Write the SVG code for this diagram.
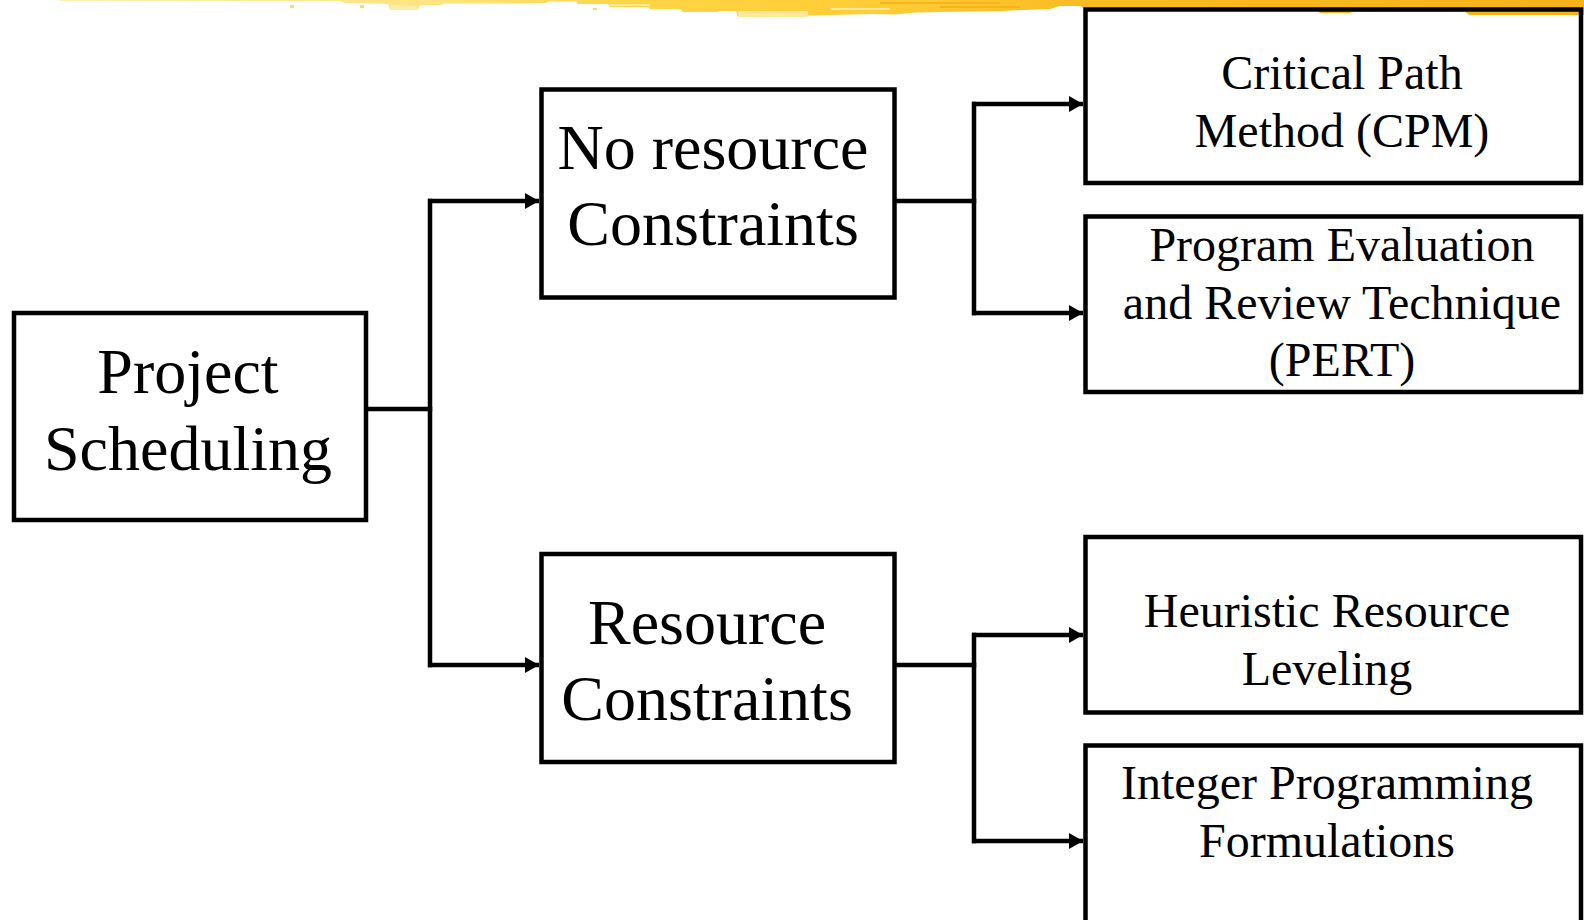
<svg xmlns="http://www.w3.org/2000/svg" width="1584" height="920" viewBox="0 0 1584 920">
  <defs>
    <linearGradient id="brush" gradientUnits="userSpaceOnUse" x1="0" y1="0" x2="1584" y2="0">
      <stop offset="0" stop-color="#FFF1BC"/>
      <stop offset="0.28" stop-color="#FFE47E"/>
      <stop offset="0.4" stop-color="#FFD544"/>
      <stop offset="0.56" stop-color="#FFCC36"/>
      <stop offset="0.68" stop-color="#F8BC22"/>
      <stop offset="1" stop-color="#F5B21A"/>
    </linearGradient>
    <marker id="arrow" viewBox="0 0 14 16" refX="14" refY="8" markerWidth="14" markerHeight="16" markerUnits="userSpaceOnUse" orient="auto">
      <path d="M0,0 L14,8 L0,16 Z" fill="#000"/>
    </marker>
    <style>
      .box { fill: none; stroke: #000; stroke-width: 4.5; }
      .big { font-family: "Liberation Serif", "Times New Roman", serif; font-size: 64px; fill: #000; text-anchor: middle; }
      .small { font-family: "Liberation Serif", "Times New Roman", serif; font-size: 48px; fill: #000; text-anchor: middle; }
      .line { fill: none; stroke: #000; stroke-width: 4.5; stroke-linecap: square; }
      .arrow { fill: none; stroke: #000; stroke-width: 4.5; marker-end: url(#arrow); }
    </style>
  </defs>

  <rect width="1584" height="920" fill="#fff"/>

  <!-- dry-brush band along the top edge -->
  <g id="brush-band">
    <path fill="url(#brush)" d="M60 0 L1584 0 L1584 15 L1470 15 L1465 12 L1352 12 L1350 13 L1320 13 L1318 11 L1085 9 L1080 6 L1060 6 L1050 9 L1000 11 L915 12.5 L895 14.5 L873 14 L808 15.5 L805 17 L738 17 L736 11 L720 11 L718 12 L683 12 L681 9 L650 9 L648 7 L610 7 L608 4 L578 4 L576 1.5 L548 1.5 L546 3 L510 3.5 L445 3.5 L440 5 L420 5 L418 10 L390 10 L388 4 L345 3 L340 1 L60 1 Z"/>
    <!-- lighter dry streaks -->
    <g fill="#FFEDA8" opacity="0.85">
      <rect x="738" y="11" width="70" height="6"/>
      <rect x="610" y="4" width="40" height="2"/>
      <rect x="830" y="8" width="60" height="2"/>
      <rect x="390" y="5" width="28" height="5"/>
    </g>
    <g fill="#F3AE18" opacity="0.7">
      <rect x="880" y="2" width="120" height="2"/>
      <rect x="940" y="6" width="80" height="2"/>
    </g>
    <g fill="#FCDB6A">
      <rect x="290" y="5" width="4" height="3"/>
      <rect x="360" y="5" width="4" height="3"/>
      <rect x="593" y="8" width="4" height="2"/>
    </g>
  </g>

  <!-- connectors -->
  <g id="connectors">
    <path class="line" d="M367 409 H430"/>
    <path class="line" d="M430 201 V665"/>
    <path class="arrow" d="M428 201 H539"/>
    <path class="arrow" d="M428 665 H539"/>

    <path class="line" d="M896 201 H974"/>
    <path class="line" d="M974 104 V313"/>
    <path class="arrow" d="M972 104 H1083"/>
    <path class="arrow" d="M972 313 H1083"/>

    <path class="line" d="M896 665 H974"/>
    <path class="line" d="M974 635 V841"/>
    <path class="arrow" d="M972 635 H1083"/>
    <path class="arrow" d="M972 841 H1083"/>
  </g>

  <g id="project-scheduling">
    <rect class="box" x="14" y="313" width="352" height="207"/>
    <text class="big" x="188" y="393">Project</text>
    <text class="big" x="188" y="470">Scheduling</text>
  </g>

  <g id="no-resource-constraints">
    <rect class="box" x="541.5" y="89.5" width="353" height="208"/>
    <text class="big" x="713" y="169">No resource</text>
    <text class="big" x="713" y="245">Constraints</text>
  </g>

  <g id="resource-constraints">
    <rect class="box" x="541.5" y="554" width="353" height="208"/>
    <text class="big" x="707" y="644">Resource</text>
    <text class="big" x="707" y="720">Constraints</text>
  </g>

  <g id="cpm">
    <rect class="box" x="1085.5" y="9.5" width="495.5" height="173.5"/>
    <text class="small" x="1342" y="89">Critical Path</text>
    <text class="small" x="1342" y="147">Method (CPM)</text>
  </g>

  <g id="pert">
    <rect class="box" x="1085.5" y="216.5" width="495.5" height="175.5"/>
    <text class="small" x="1342" y="261">Program Evaluation</text>
    <text class="small" x="1342" y="319">and Review Technique</text>
    <text class="small" x="1342" y="376">(PERT)</text>
  </g>

  <g id="heuristic-leveling">
    <rect class="box" x="1085.5" y="537" width="495.5" height="175.5"/>
    <text class="small" x="1327" y="627">Heuristic Resource</text>
    <text class="small" x="1327" y="685">Leveling</text>
  </g>

  <g id="integer-programming">
    <rect class="box" x="1085.5" y="745.5" width="495.5" height="190"/>
    <text class="small" x="1327" y="799">Integer Programming</text>
    <text class="small" x="1327" y="857">Formulations</text>
  </g>
</svg>
